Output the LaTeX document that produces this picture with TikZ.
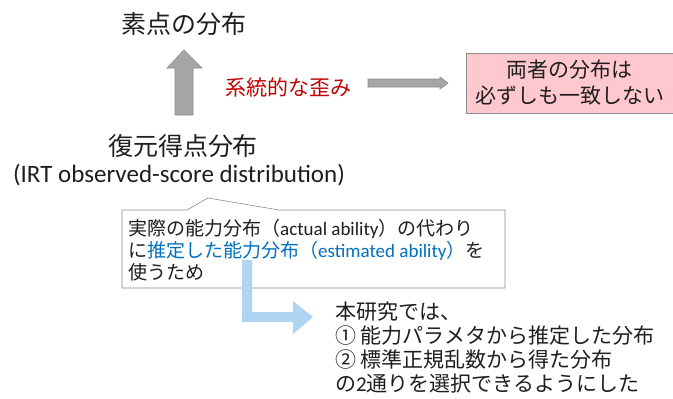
\documentclass[tikz,border=0pt]{standalone}
\usepackage{fontspec}
\setmainfont{Carlito}
\newfontfamily\jp{Noto Sans CJK JP}
\definecolor{txt}{RGB}{30,30,30}
\definecolor{redtxt}{RGB}{192,0,0}
\definecolor{bluetxt}{RGB}{0,112,192}
\definecolor{arrowgray}{RGB}{166,166,166}
\definecolor{arrowedge}{RGB}{140,140,140}
\definecolor{pinkfill}{RGB}{255,199,206}
\definecolor{lightblue}{RGB}{174,213,243}
\begin{document}
\begin{tikzpicture}[x=1pt,y=-1pt,
  big/.style={font=\jp\fontsize{25}{30}\selectfont, text=txt, inner sep=0pt},
  blockarrow/.style={fill=arrowgray, draw=arrowedge, line width=0.6pt},
  pinkbox/.style={draw=arrowedge, fill=pinkfill, line width=0.6pt, minimum width=207pt, minimum height=60pt, inner sep=0pt, align=center, font=\jp\fontsize{21}{26}\selectfont, text=txt},
  callout/.style={draw=arrowedge, fill=white, line width=0.6pt},
  calltext/.style={font=\fontsize{19}{22}\selectfont, text=txt, inner sep=0pt, align=left},
  bottomtext/.style={font=\jp\fontsize{21}{24}\selectfont, text=txt, inner sep=0pt, align=left}
]
\useasboundingbox (0,0) rectangle (673,399);

% titles
\node[big] (top) at (184,24) {素点の分布};
\node[big] (restored) at (183,146) {復元得点分布};
\node[font=\fontsize{25}{30}\selectfont, text=txt, inner sep=0pt] (irt) at (179,175) {(IRT observed-score distribution)};

% up block arrow
\filldraw[blockarrow] (175,115) -- (175,68) -- (167,68) -- (184,50) -- (202,68) -- (193,68) -- (193,115) -- cycle;

% red label
\node[font=\jp\fontsize{21}{25}\selectfont, text=redtxt, inner sep=0pt, anchor=west] (distort) at (225,88) {系統的な歪み};

% right block arrow
\filldraw[blockarrow] (368,79) -- (440,79) -- (440,77) -- (448,83) -- (440,89) -- (440,87) -- (368,87) -- cycle;

% pink box
\node[pinkbox] (box) at (569.5,83) {両者の分布は\\必ずしも一致しない};

% callout
\filldraw[callout] (122,210) -- (187,210) -- (208,198) -- (279,210) -- (505,210) -- (505,288) -- (122,288) -- cycle;
\node[calltext, anchor=north west] (ctext) at (128,219) {%
{\jp 実際の能力分布（}actual ability{\jp ）の代わり}\\
{\jp に}\textcolor{bluetxt}{{\jp 推定した能力分布（}estimated ability{\jp ）}}{\jp を}\\
{\jp 使うため}};

% light blue L arrow
\fill[lightblue] (242,260) -- (252,260) -- (252,312) -- (293,312) -- (293,301) -- (313,317) -- (293,334) -- (293,322) -- (242,322) -- cycle;

% bottom text
\node[bottomtext, anchor=north west] (note) at (335,302) {%
本研究では、\\
① 能力パラメタから推定した分布\\
② 標準正規乱数から得た分布\\
の{\fontspec{Carlito}2}通りを選択できるようにした};
\end{tikzpicture}
\end{document}
